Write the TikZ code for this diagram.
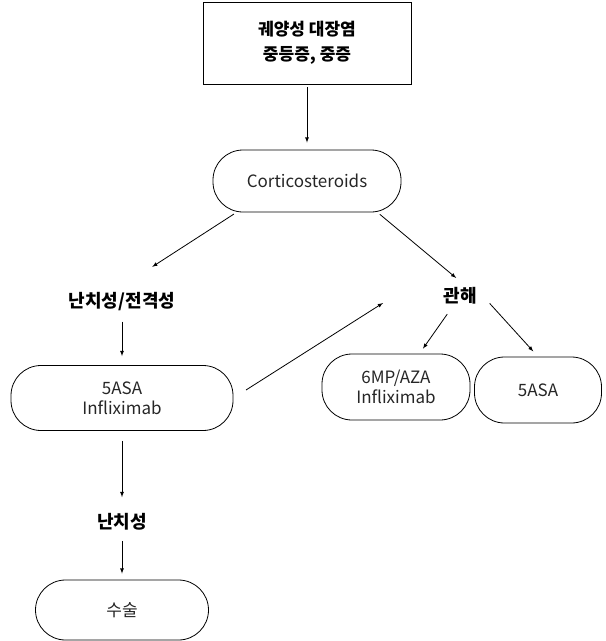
\documentclass[tikz,border=0pt]{standalone}
\usepackage{fontspec}
\setmainfont{Noto Sans CJK KR}
\usetikzlibrary{positioning}

\begin{document}
\begin{tikzpicture}[style={align=center, line width=0.8pt, font=\fontsize{17}{20}\selectfont}, on grid,
	box/.style={draw, minimum width=208pt, minimum height=82pt, font=\bfseries\fontsize{17}{25}\selectfont},
	pill/.style={draw, rounded corners=30pt, text=black!85},
	lbl/.style={font=\bfseries\fontsize{18}{20}\selectfont, inner sep=6pt}]
		
		\node[box] (T) at (307pt,-43pt) {궤양성 대장염\\중등증, 중증};
		\useasboundingbox ([xshift=-307pt,yshift=43pt]T.center) rectangle ++(606pt,-641pt);
		\node[pill, minimum width=188pt, minimum height=62pt, below=138pt of T] (CS) {Corticosteroids};
		\node[lbl, below left=121pt and 185pt of CS] (R1) {난치성/전격성};
		\node[lbl, below right=115pt and 153pt of CS] (REM) {관해};
		\node[pill, minimum width=222pt, minimum height=65pt, below=96pt of R1] (A1) {5ASA\\Infliximab};
		\node[lbl, below=124pt of A1] (R2) {난치성};
		\node[pill, minimum width=173pt, minimum height=60pt, below=88pt of R2] (S) {수술};
		\node[pill, minimum width=148pt, minimum height=66pt, below left=91pt and 64pt of REM] (M1) {6MP/AZA\\Infliximab};
		\node[pill, minimum width=127pt, minimum height=66pt, below right=94pt and 78pt of REM] (M2) {5ASA};
		\coordinate[below left=7pt and 77pt of REM] (RemIn);
		\draw[-latex, shorten <=3pt, shorten >=7pt] (T) -- (CS);
		\draw[-latex, shorten <=3pt, shorten >=36pt] (CS.204) -- (R1.north);
		\draw[-latex, shorten <=3pt, shorten >=5pt] (CS.-24) -- (REM.north);
		\draw[-latex, shorten <=4pt, shorten >=9pt] (R1) -- (A1);
		\draw[-latex, shorten <=15pt] (A1.east) -- (RemIn);
		\draw[-latex, shorten <=4pt, shorten >=6pt] (REM) -- (M1);
		\draw[-latex, shorten <=10pt, shorten >=7pt] (REM.east) -- (M2.north);
		\draw[-latex, shorten <=10pt, shorten >=10pt] (A1) -- (R2);
		\draw[-latex, shorten <=4pt, shorten >=6pt] (R2) -- (S);
		\end{tikzpicture}
\end{document}
